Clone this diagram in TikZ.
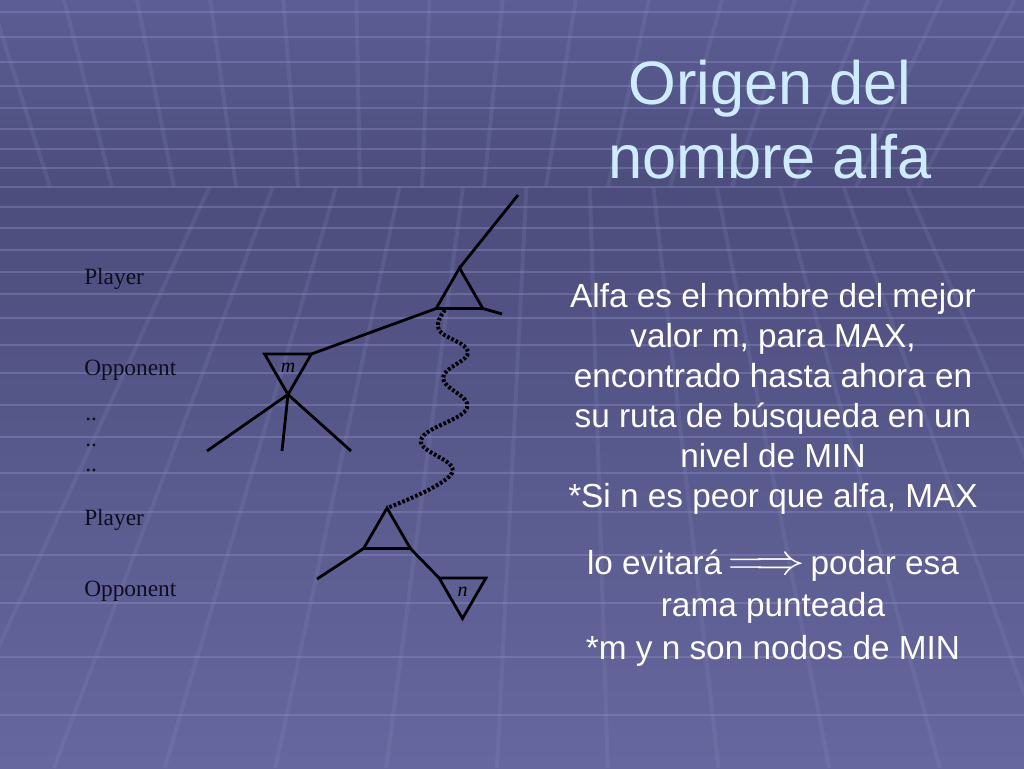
\documentclass[tikz,border=0pt]{standalone}
\usepackage{amsmath}
\usepackage{amssymb}
\usepackage{graphicx}
\usepackage[no-math]{fontspec}
\setmainfont{Liberation Sans}
\newfontfamily\levelfont{Liberation Serif}
\usepackage{tikz}
\usetikzlibrary{shapes.geometric}
\definecolor{slidetop}{RGB}{92,93,148}
\definecolor{slidemid}{RGB}{76,77,124}
\definecolor{slidebot}{RGB}{102,103,158}
\definecolor{gridlight}{RGB}{140,142,196}
\definecolor{titleblue}{RGB}{206,236,255}
\definecolor{labelink}{RGB}{14,14,30}
\tikzstyle{gridline} = [gridlight, line width=1.6pt, opacity=0.4]
\tikzstyle{gridslant} = [gridlight, line width=3pt, opacity=0.18]
\tikzstyle{maxnode} = [draw=black, line width=2.1pt, regular polygon, regular polygon sides=3,
    minimum size=40.5pt, inner sep=0pt, outer sep=0pt]
\tikzstyle{minnode} = [maxnode, regular polygon rotate=180, text=black,
    font=\levelfont\itshape\fontsize{15}{15}\selectfont]
\tikzstyle{branch} = [line width=2.1pt, black]
\tikzstyle{prunedbranch} = [line width=3pt, black, dash pattern=on 2pt off 1.5pt]
\tikzstyle{levellabel} = [anchor=base west, inner sep=0pt, text=labelink,
    font=\levelfont\fontsize{17.5}{17.5}\selectfont]
\tikzstyle{titletext} = [anchor=north, align=center, inner sep=0pt, text=titleblue,
    font=\fontsize{46}{55.5}\selectfont]
\tikzstyle{bodytext} = [anchor=north, align=center, inner sep=0pt, text=white,
    font=\fontsize{25}{30}\selectfont]

\begin{document}
\begin{tikzpicture}[x=0.75pt, y=-0.75pt]
                % slide background
                \shade[top color=slidetop, bottom color=slidemid] (0,0) rectangle (1024,190);
                \shade[top color=slidemid, bottom color=slidebot] (0,190) rectangle (1024,768);
                \useasboundingbox (0,0) rectangle (1024,768);
                \foreach \y in {12,37,62,86,108,129,149,168,187,207,228,250,272,294,318,345,373,405,437,473,512,555,603,657,715}
                    \draw[gridline] (0,\y) -- (1024,\y);
                \foreach \x in {50,112,...,1166}
                    \draw[gridslant] ({\x+(\x-380)*0.179},0) -- (\x,187);
                \foreach \x in {43,136,...,1100}
                    \draw[gridslant] ({566+(\x-566)*0.682},187) -- ({566+(\x-566)*1.191},768);

                % title and text
                \node[titletext] (title) at (770,60) {Origen del\\nombre alfa};
                \node[bodytext] (expl) at (773,283) {%
                    Alfa es el nombre del mejor\\
                    valor m, para MAX,\\
                    encontrado hasta ahora en\\
                    su ruta de búsqueda en un\\
                    nivel de MIN\\
                    *Si n es peor que alfa, MAX\\[20pt]
                    lo evitará\,\scalebox{1.5}[1.3]{$\Longrightarrow$}\,podar esa\\[2pt]
                    rama punteada\\[2pt]
                    *m y n son nodos de MIN};

                % levels
                \node[levellabel] (playerA) at (84,284) {Player};
                \node[levellabel] (opponentA) at (84,375) {Opponent};
                \node[levellabel] (dotsA) at (85,420) {..};
                \node[levellabel] (dotsB) at (85,446) {..};
                \node[levellabel] (dotsC) at (85,471) {..};
                \node[levellabel] (playerB) at (84,525) {Player};
                \node[levellabel] (opponentB) at (84,596) {Opponent};

                % search tree
                \coordinate (root) at (518,195);
                \node[maxnode] (maxA) at (459.5,295) {};
                \coordinate (maxAright) at (502,314);
                \node[minnode] (minM) at (288,367.5) {m};
                \coordinate (leafA) at (207,451);
                \coordinate (leafB) at (282,451);
                \coordinate (leafC) at (351,451);
                \coordinate (wavestart) at (445,310);
                \node[maxnode] (maxB) at (387,535) {};
                \coordinate (leafD) at (317,579);
                \node[minnode] (minN) at (462.5,591.5) {n};

                \draw[branch] (root) -- (maxA.corner 1);
                \draw[branch] (maxA.corner 3) -- (maxAright);
                \draw[branch] (maxA.corner 2) -- (minM.corner 2);
                \foreach \leaf in {leafA,leafB,leafC}
                    \draw[branch] (minM.corner 1) -- (\leaf);
                \draw[prunedbranch] plot[smooth, tension=0.7] coordinates {(wavestart) (439,330) (468,352)
                    (443,378) (467,408) (421,440) (452,473) (maxB.corner 1)};
                \draw[branch] (maxB.corner 2) -- (leafD);
                \draw[branch] (maxB.corner 3) -- (minN.corner 3);
            \end{tikzpicture}
\end{document}
